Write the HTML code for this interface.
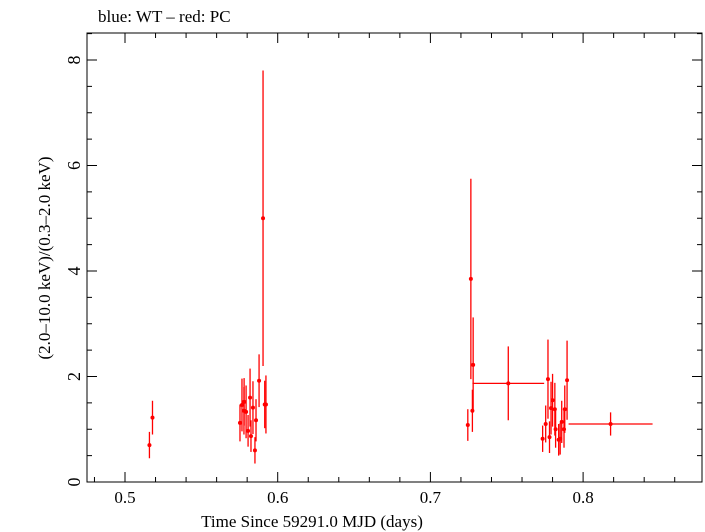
<!DOCTYPE html>
<html><head><meta charset="utf-8"><style>
body{margin:0;background:#fff}
svg{display:block;font-family:"Liberation Serif",serif}
</style></head><body>
<svg id="c" width="705" height="532">
<text x="98" y="22" font-size="17">blue: WT – red: PC</text>
<rect x="87" y="33" width="615" height="449" fill="none" stroke="#000"/>
<text x="312" y="527" font-size="17" text-anchor="middle">Time Since 59291.0 MJD (days)</text>
<text transform="translate(50,258) rotate(-90)" font-size="17" text-anchor="middle">(2.0–10.0 keV)/(0.3–2.0 keV)</text>
<g id="ax"></g><g id="pts"></g>
</svg>
<script>
const times=[0.516,0.518,0.5753,0.5766,0.578,0.5779,0.5793,0.5806,0.5819,0.5825,0.5838,0.5851,0.5858,0.5878,0.5904,0.5923,0.5915,0.7245,0.7265,0.728,0.7275,0.751,0.7735,0.7755,0.777,0.778,0.779,0.780,0.7815,0.782,0.784,0.785,0.786,0.7875,0.788,0.7895,0.818];
const ratios=[0.7,1.22,1.12,1.46,1.52,1.35,1.33,0.97,1.6,0.87,1.41,0.6,1.17,1.92,5.0,1.47,1.47,1.08,3.85,2.22,1.35,1.87,0.82,1.1,1.95,0.85,1.4,1.55,1.38,1.0,0.8,0.82,1.14,1.0,1.38,1.93,1.1];
const errs=[0.25,0.32,0.35,0.5,0.45,0.45,0.5,0.3,0.55,0.3,0.5,0.25,0.4,0.5,2.8,0.55,0.45,0.3,1.9,0.9,0.4,0.7,0.25,0.35,0.75,0.3,0.5,0.5,0.5,0.35,0.3,0.3,0.4,0.35,0.45,0.75,0.22];
const terrs=[0,0,0,0,0,0,0,0,0,0,0,0,0,0,0,0,0,0,0,0,0,0.0235,0,0,0,0,0,0,0,0,0,0,0,0,0,0,0.0275];
const xTicks=[0.5,0.6,0.7,0.8];const yTicks=[0,2,4,6,8];
const xs=t=>125+(t-0.5)*1527, ys=v=>482-v*52.75;
const NS="http://www.w3.org/2000/svg";
function mk(p,tag,a){const e=document.createElementNS(NS,tag);for(const k in a)e.setAttribute(k,a[k]);p.appendChild(e);return e;}
const ax=document.getElementById('ax'),pts=document.getElementById('pts');
xTicks.forEach(t=>{const x=xs(t);
 let l=mk(ax,'line',{x1:x,x2:x,y1:482,y2:472,stroke:'#000'});
 
 
 let l2=mk(ax,'line',{x1:x,x2:x,y1:33,y2:43,stroke:'#000'});
 
 
 let tx=mk(ax,'text',{x:x,y:503,'font-size':17,'text-anchor':'middle'});tx.textContent=t.toFixed(1);
 
 
 for(let k=1;k<5;k++){const mx=xs(t+k*0.02);if(mx<702){mk(ax,'line',{x1:mx,x2:mx,y1:482,y2:477,stroke:'#000'});mk(ax,'line',{x1:mx,x2:mx,y1:33,y2:38,stroke:'#000'});}}
});
mk(ax,'line',{x1:xs(0.48),x2:xs(0.48),y1:482,y2:477,stroke:'#000'});
yTicks.forEach(v=>{const y=ys(v);
 let l=mk(ax,'line',{x1:87,x2:97,y1:y,y2:y,stroke:'#000'});
 
 
 mk(ax,'line',{x1:702,x2:692,y1:y,y2:y,stroke:'#000'});
 let tx=mk(ax,'text',{transform:`translate(80,${y}) rotate(-90)`,'font-size':18,'text-anchor':'middle'});tx.textContent=v;
 
 
 for(let k=1;k<4;k++){const my=ys(v+k*0.5);if(my>33){mk(ax,'line',{x1:87,x2:92,y1:my,y2:my,stroke:'#000'});mk(ax,'line',{x1:702,x2:697,y1:my,y2:my,stroke:'#000'});}}
});
times.forEach((t,i)=>{const g=mk(pts,'g',{stroke:'#f00','stroke-width':1.3});
 
 
 const x=xs(t),y=ys(ratios[i]);
 mk(g,'line',{x1:x,x2:x,y1:ys(ratios[i]-errs[i]),y2:ys(ratios[i]+errs[i])});
 if(terrs[i]>0)mk(g,'line',{x1:xs(t-terrs[i]),x2:xs(t+terrs[i]),y1:y,y2:y});
 mk(g,'circle',{cx:x,cy:y,r:2,fill:'#f00',stroke:'none'});
});
</script>
</body></html>
